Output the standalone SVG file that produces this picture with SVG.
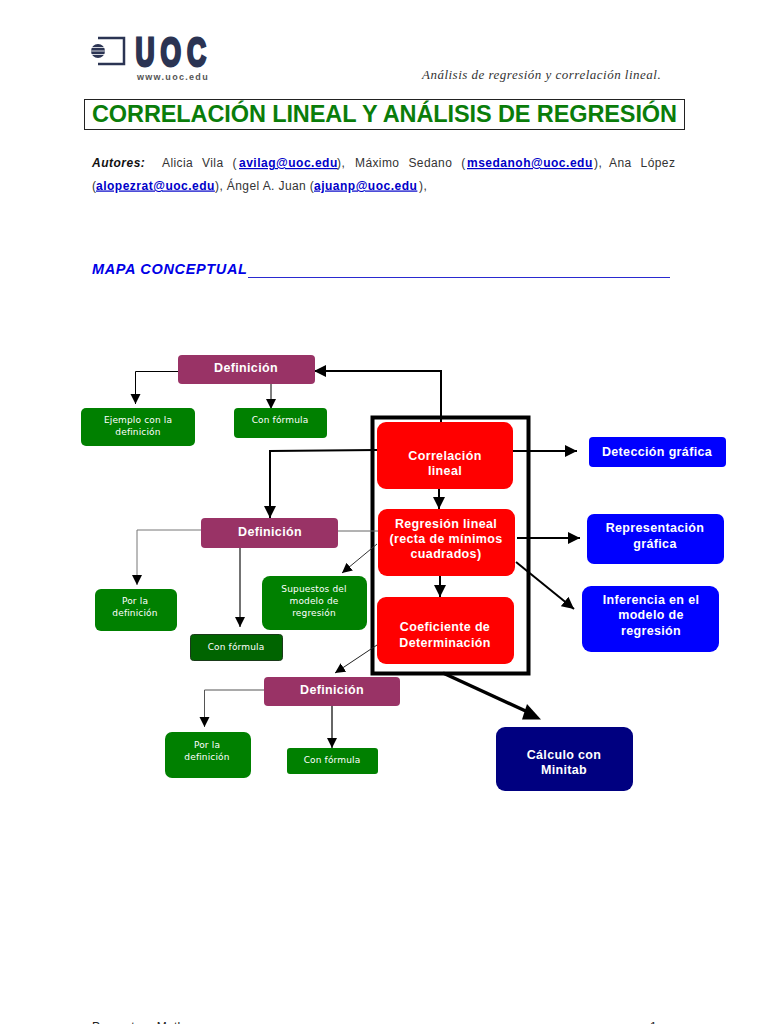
<svg xmlns="http://www.w3.org/2000/svg" width="768" height="1024" viewBox="0 0 768 1024">
<style>
text{font-family:"Liberation Sans",Arial,sans-serif}
.n{text-anchor:middle;font-weight:bold;fill:#fff}
.big{font-size:12.5px;letter-spacing:.35px}
.sm{font-family:"DejaVu Sans",Verdana,sans-serif;font-size:9px;font-weight:normal;letter-spacing:.15px}
.body{font-size:12px;fill:#333;letter-spacing:.4px;word-spacing:5.3px}
.body2{font-size:12px;fill:#333;letter-spacing:.4px}
.mail{font-size:12px;font-weight:bold;fill:#0000c8;text-decoration:underline;letter-spacing:.5px}
.c{fill:none;stroke:#000}
.h{stroke-width:2px}
</style>
<defs>
<marker id="a" markerUnits="userSpaceOnUse" markerWidth="11" markerHeight="11" refX="10" refY="5.500" orient="auto"><path d="M0 .5L10 5.500L0 10.500Z" fill="#000"/></marker>
<marker id="b" markerUnits="userSpaceOnUse" markerWidth="13" markerHeight="13" refX="12" refY="6.500" orient="auto"><path d="M0 .5L12 6.500L0 12.500Z" fill="#000"/></marker>
</defs>
<rect width="768" height="1024" fill="#fff"/>
<g id="logo">
<circle cx="98" cy="51" r="7" fill="#2b3453"/>
<path d="M91 47.500H105M91 51H105M91 54.500H105" stroke="#fff" stroke-width=".8"/>
<path d="M98 38H124V64H98" fill="none" stroke="#2b3453" stroke-width="2.500"/>
<text transform="translate(135.500 66) scale(.66 1)" font-size="40" font-weight="bold" fill="#2b3453" stroke="#2b3453" stroke-width="3" letter-spacing="9">UOC</text>
<text x="137" y="80" font-size="9" font-weight="bold" fill="#555" letter-spacing="1.300">www.uoc.edu</text>
</g>
<text x="422" y="79" font-size="13" font-style="italic" fill="#333" letter-spacing=".49" style="font-family:'Liberation Serif',serif">Análisis de regresión y correlación lineal.</text>
<rect x="84.500" y="99.500" width="600" height="30" fill="#fff" stroke="#222"/>
<text x="92" y="122" font-size="23.500" font-weight="bold" fill="#0a7d0a" textLength="585">CORRELACIÓN LINEAL Y ANÁLISIS DE REGRESIÓN</text>
<text x="92" y="167" font-size="12" font-weight="bold" font-style="italic" fill="#111" letter-spacing=".5">Autores:</text>
<text x="162" y="167" class="body">Alicia Vila (</text>
<text x="239" y="167" class="mail">avilag@uoc.edu</text>
<text x="337" y="167" class="body">),</text>
<text x="355" y="167" class="body">Máximo Sedano (</text>
<text x="467" y="167" class="mail">msedanoh@uoc.edu</text>
<text x="594" y="167" class="body">),</text>
<text x="609" y="167" class="body">Ana López</text>
<text x="92" y="189.500" class="body2">(</text>
<text x="96" y="189.500" class="mail">alopezrat@uoc.edu</text>
<text x="215" y="189.500" class="body2">), Ángel A. Juan (</text>
<text x="314" y="189.500" class="mail">ajuanp@uoc.edu</text>
<text x="419" y="189.500" class="body2">),</text>
<text x="92" y="274" font-size="14.500" font-weight="bold" font-style="italic" fill="#0000e6" letter-spacing=".65">MAPA CONCEPTUAL</text>
<line x1="248" y1="277.500" x2="670" y2="277.500" stroke="#2a2ad0" stroke-width="1.200"/>
<text x="92" y="1031" font-size="12" fill="#222" letter-spacing=".3">Proyecto e-Math</text>
<text x="650" y="1031" font-size="12" fill="#222">1</text>

<rect x="372.500" y="417.500" width="156" height="256" fill="none" stroke="#000" stroke-width="4"/>
<g id="connectors">
<path class="c h" d="M441 422V371H314" marker-end="url(#b)"/>
<path class="c" d="M178 371.500H135.500V404" marker-end="url(#a)"/>
<path class="c" d="M271 384V409" marker-end="url(#a)"/>
<path class="c h" d="M377 450L270 451V518" marker-end="url(#b)"/>
<path class="c h" d="M513 451H577" marker-end="url(#b)"/>
<path class="c h" d="M439 488V509" marker-end="url(#b)"/>
<path class="c h" d="M517 538H580" marker-end="url(#b)"/>
<path class="c h" d="M516 562L574 609" marker-end="url(#b)"/>
<path class="c h" d="M440 576V597" marker-end="url(#b)"/>
<path class="c" d="M338 531H378" style="stroke:#666"/>
<path class="c" d="M201 530H137V585" style="stroke:#777" marker-end="url(#a)"/>
<path class="c" d="M240 548V627" style="stroke:#444;stroke-width:1.500px" marker-end="url(#a)"/>
<path class="c" d="M377 544L342 573" style="stroke:#333" marker-end="url(#a)"/>
<path class="c" d="M377 645L335 673" style="stroke:#222" marker-end="url(#a)"/>
<path class="c" d="M264 690H204.500V727" style="stroke:#555" marker-end="url(#a)"/>
<path class="c" d="M332 706V748" style="stroke:#333;stroke-width:1.500px" marker-end="url(#a)"/>
<path class="c" d="M443 673L530 713" stroke-width="3.500"/>
<path d="M527 704L522 719.500H541Z" fill="#000"/>
</g>
<g id="def1"><rect x="178" y="355" width="137" height="29" rx="4" fill="#993366"/><text class="n big" x="246" y="372">Definición</text></g>
<g id="ej"><rect x="81" y="408" width="114" height="38" rx="5" fill="#008000"/><text class="n sm" x="138" y="423">Ejemplo con la</text><text class="n sm" x="138" y="435">definición</text></g>
<g id="f1"><rect x="234" y="408" width="93" height="30" rx="4" fill="#008000"/><text class="n sm" x="280" y="423">Con fórmula</text></g>
<g id="corr"><rect x="377" y="422" width="136" height="67" rx="9" fill="#f00"/><text class="n big" x="445" y="460">Correlación</text><text class="n big" x="445" y="475">lineal</text></g>
<g id="det"><rect x="589" y="437" width="137" height="30" rx="4" fill="#00f"/><text class="n big" x="657" y="455.500">Detección gráfica</text></g>
<g id="def2"><rect x="201" y="518" width="137" height="30" rx="4" fill="#993366"/><text class="n big" x="270" y="535.500">Definición</text></g>
<g id="reg"><rect x="378" y="509" width="137" height="67" rx="9" fill="#f00"/><text class="n big" x="446" y="528">Regresión lineal</text><text class="n big" x="446" y="543">(recta de mínimos</text><text class="n big" x="446" y="557.500">cuadrados)</text></g>
<g id="rep"><rect x="587" y="514" width="137" height="50" rx="7" fill="#00f"/><text class="n big" x="655" y="532">Representación</text><text class="n big" x="655" y="547.500">gráfica</text></g>
<g id="inf"><rect x="582" y="586" width="137" height="66" rx="9" fill="#00f"/><text class="n big" x="651" y="604">Inferencia en el</text><text class="n big" x="651" y="619">modelo de</text><text class="n big" x="651" y="634.500">regresión</text></g>
<g id="sup"><rect x="262" y="576" width="105" height="54" rx="8" fill="#008000"/><text class="n sm" x="314" y="592">Supuestos del</text><text class="n sm" x="314" y="604">modelo de</text><text class="n sm" x="314" y="616">regresión</text></g>
<g id="por1"><rect x="95" y="589" width="82" height="42" rx="6" fill="#008000"/><text class="n sm" x="135" y="604">Por la</text><text class="n sm" x="135" y="616">definición</text></g>
<g id="f2"><rect x="190.500" y="634.500" width="92" height="26" rx="3" fill="#006400" stroke="#1a3a1a"/><text class="n sm" x="236" y="649.500">Con fórmula</text></g>
<g id="coef"><rect x="377" y="597" width="137" height="67" rx="9" fill="#f00"/><text class="n big" x="445" y="631">Coeficiente de</text><text class="n big" x="445" y="646.500">Determinación</text></g>
<g id="def3"><rect x="264" y="677" width="136" height="29" rx="4" fill="#993366"/><text class="n big" x="332" y="694">Definición</text></g>
<g id="por2"><rect x="165" y="732" width="86" height="46" rx="7" fill="#008000"/><text class="n sm" x="207" y="748">Por la</text><text class="n sm" x="207" y="760">definición</text></g>
<g id="f3"><rect x="287" y="748" width="91" height="26" rx="3" fill="#008000"/><text class="n sm" x="332" y="763">Con fórmula</text></g>
<g id="calc"><rect x="496" y="727" width="137" height="64" rx="9" fill="#000080"/><text class="n big" x="564" y="759">Cálculo con</text><text class="n big" x="564" y="774">Minitab</text></g>
</svg>
